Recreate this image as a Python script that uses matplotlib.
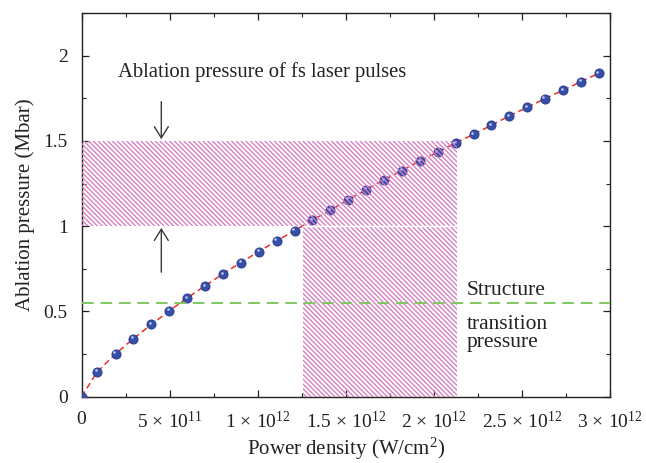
import matplotlib
matplotlib.use("Agg")
import matplotlib.pyplot as plt
import matplotlib.patches as mpatches
import matplotlib.transforms as mtransforms
import numpy as np

# ---- data (x in units of 1e12 W/cm^2, y in Mbar) ----
power_density = [0.0, 0.09, 0.193, 0.295, 0.397, 0.499, 0.599, 0.700, 0.802, 0.904,
                 1.006, 1.108, 1.210, 1.310, 1.412, 1.514, 1.616, 1.716, 1.818, 1.920,
                 2.022, 2.124, 2.226, 2.327, 2.426, 2.528, 2.629, 2.732, 2.834, 2.935]
ablation_pressure = [0.0, 0.147, 0.251, 0.341, 0.424, 0.504, 0.579, 0.649, 0.720, 0.786,
                     0.851, 0.914, 0.974, 1.035, 1.094, 1.155, 1.214, 1.271, 1.326, 1.382,
                     1.435, 1.488, 1.539, 1.592, 1.645, 1.696, 1.747, 1.796, 1.847, 1.896]
structure_transition = 0.55
fs_pressure_range = [1.0, 1.5]
fs_power_range = [1.255, 2.13]
xticks = [0, 0.5, 1.0, 1.5, 2.0, 2.5, 3.0]
xticklabels = ['0', r'$5\,\times\,10^{11}$', r'$1\,\times\,10^{12}$', r'$1.5\,\times\,10^{12}$',
               r'$2\,\times\,10^{12}$', r'$2.5\,\times\,10^{12}$', r'$3\,\times\,10^{12}$']
yticks = [0, 0.5, 1.0, 1.5, 2.0]
yticklabels = ['0', '0.5', '1', '1.5', '2']

plt.rcParams['font.family'] = ['Liberation Serif', 'DejaVu Serif']
plt.rcParams['mathtext.fontset'] = 'custom'
plt.rcParams['mathtext.rm'] = 'Liberation Serif'
plt.rcParams['mathtext.it'] = 'Liberation Serif:italic'
plt.rcParams['hatch.linewidth'] = 0.95

hatch_color = '#d67cc2'
txt_color = '#222222'

fig = plt.figure(figsize=(6.46, 4.63), dpi=100)
ax = fig.add_axes([0.1262, 0.1432, 0.818, 0.8287])

# hatched regions
upper = mpatches.Rectangle((0, fs_pressure_range[0]), fs_power_range[1],
                           fs_pressure_range[1] - fs_pressure_range[0],
                           facecolor='none', edgecolor=hatch_color, linewidth=0,
                           hatch='\\' * 7, zorder=5)
lower = mpatches.Rectangle((fs_power_range[0], 0), fs_power_range[1] - fs_power_range[0],
                           fs_pressure_range[0],
                           facecolor='none', edgecolor=hatch_color, linewidth=0,
                           hatch='\\' * 7, zorder=5)
ax.add_patch(upper)
ax.add_patch(lower)
ax.plot(fs_power_range, [fs_pressure_range[0]] * 2, color='white', lw=1.0, zorder=5.5)

# curve
ax.plot(power_density, ablation_pressure, color='#e8302a', lw=1.1,
        dashes=(4, 2.5), zorder=3)
ax.plot(power_density, ablation_pressure, 'o', ms=6.6, mfc='#3650a8',
        mec='#28388a', mew=0.6, zorder=4)
hl = mtransforms.offset_copy(ax.transData, fig=fig, x=-1.2, y=1.4, units='dots')
ax.plot(power_density, ablation_pressure, 'o', ms=1.8, mfc='#c9d0ee', mec='none',
        transform=hl, zorder=4.1)

# structure transition
ax.axhline(structure_transition, color='#7ec85e', lw=1.4, dashes=(6, 3.5), zorder=6)

# arrows
for tip, base in [(1.51, 1.73), (0.99, 0.73)]:
    ax.annotate('', xy=(0.453, tip), xytext=(0.453, base),
                arrowprops=dict(arrowstyle='->,head_length=0.45,head_width=0.28',
                                color='#3a3a3a', lw=1.0, shrinkA=0, shrinkB=0,
                                mutation_scale=18), zorder=7)

ax.text(0.205, 1.905, 'Ablation pressure of fs laser pulses', fontsize=14.9,
        va='center', ha='left', color=txt_color)
ax.text(2.185, 0.625, 'Structure', fontsize=15.5, va='center', ha='left', color=txt_color)
ax.text(2.185, 0.425, 'transition', fontsize=15.5, va='center', ha='left', color=txt_color)
ax.text(2.185, 0.32, 'pressure', fontsize=15.5, va='center', ha='left', color=txt_color)

ax.set_xlim(0, 3.0)
ax.set_ylim(0, 2.25)
ax.set_xticks(xticks)
ax.set_xticklabels(xticklabels)
ax.set_yticks(yticks)
ax.set_yticklabels(yticklabels)
ax.set_xticks(np.arange(0, 3.01, 0.25), minor=True)
ax.set_yticks(np.arange(0, 2.26, 0.25), minor=True)
ax.tick_params(which='both', direction='in', top=True, right=True, labelsize=14,
               colors=txt_color)
ax.tick_params(which='major', length=5, width=0.9)
ax.tick_params(axis='x', which='major', pad=10)
ax.tick_params(axis='y', which='major', pad=10)
ax.tick_params(which='minor', length=3, width=0.8)
for s in ax.spines.values():
    s.set_linewidth(1.0)
    s.set_color(txt_color)

ax.set_xlabel(r'Power density (W/cm$^2$)', fontsize=15, color=txt_color)
ax.xaxis.set_label_coords(0.5, -0.137)
ax.xaxis.label.set_va('center')
ax.set_ylabel('Ablation pressure (Mbar)', fontsize=15, color=txt_color, labelpad=6)

fig.savefig('out.png', dpi=100)
